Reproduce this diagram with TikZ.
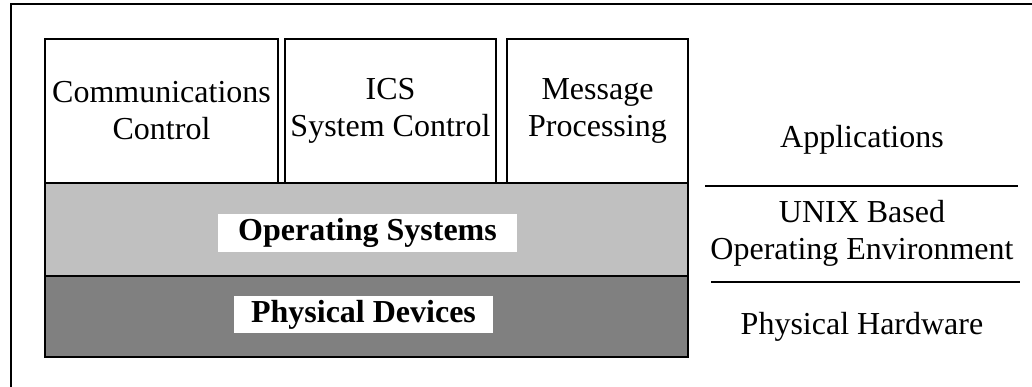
\documentclass[tikz,border=0pt]{standalone}
\usepackage{fontspec}
\setmainfont{Liberation Serif}
\usepackage{tikz}
\usetikzlibrary{positioning}
\tikzset{every picture/.style={line width=2.5pt}}
\definecolor{osgrey}{RGB}{192,192,192}
\definecolor{hwgrey}{RGB}{128,128,128}
\tikzset{
	bigfont/.style={font=\fontsize{32}{37}\selectfont},
	appbox/.style={draw, fill=white, minimum height=144pt, inner sep=0pt, align=center, bigfont},
	layerband/.style={draw, minimum width=643pt, inner sep=0pt},
	layertag/.style={fill=white, inner sep=0pt, bigfont, font=\fontsize{32}{37}\selectfont\bfseries},
	sidetext/.style={align=center, inner sep=0pt, bigfont}
}

\begin{document}
\begin{tikzpicture}[x=1pt,y=1pt,yscale=-1,xscale=1]
		\useasboundingbox (0,0) rectangle (1032,387);
		
		%Straight Lines [frame, only top and left show]
		\draw    (11,387) -- (11,4) -- (1032,4) ;
		
		%Shape: Rectangle [operating systems band]
		\node [layerband, fill=osgrey, minimum height=93pt] (osband) at (366.5,229.5) {};
		%Shape: Rectangle [hardware band]
		\node [layerband, fill=hwgrey, minimum height=81pt] (hwband) at (366.5,316.5) {};
		
		%Shape: Rectangle [applications]
		\node [appbox, minimum width=233pt] (commctl) at (161.5,111) {Communications\\Control};
		\node [appbox, minimum width=211pt] (icsctl) at (390.5,111) {ICS\\System Control};
		\node [appbox, minimum width=181pt] (msgproc) at (597.5,111) {Message\\Processing};
		
		% Text Node
		\node [layertag, minimum width=299pt, minimum height=38pt] (ostag) at (367.5,233) {Operating Systems};
		% Text Node
		\node [layertag, minimum width=259pt, minimum height=37pt] (hwtag) at (363.5,314.5) {Physical Devices};
		
		% Text Node
		\node [sidetext] (apptext) at (862,140) {Applications};
		% Text Node
		\node [sidetext] (unixtext) at (862,233) {UNIX Based\\Operating Environment};
		% Text Node
		\node [sidetext] (hwtext) at (862,327) {Physical Hardware};
		
		%Straight Lines [separators]
		\draw    (705,186) -- (1018,186) ;
		\draw    (711,282) -- (1020,282) ;
		
\end{tikzpicture}
\end{document}
